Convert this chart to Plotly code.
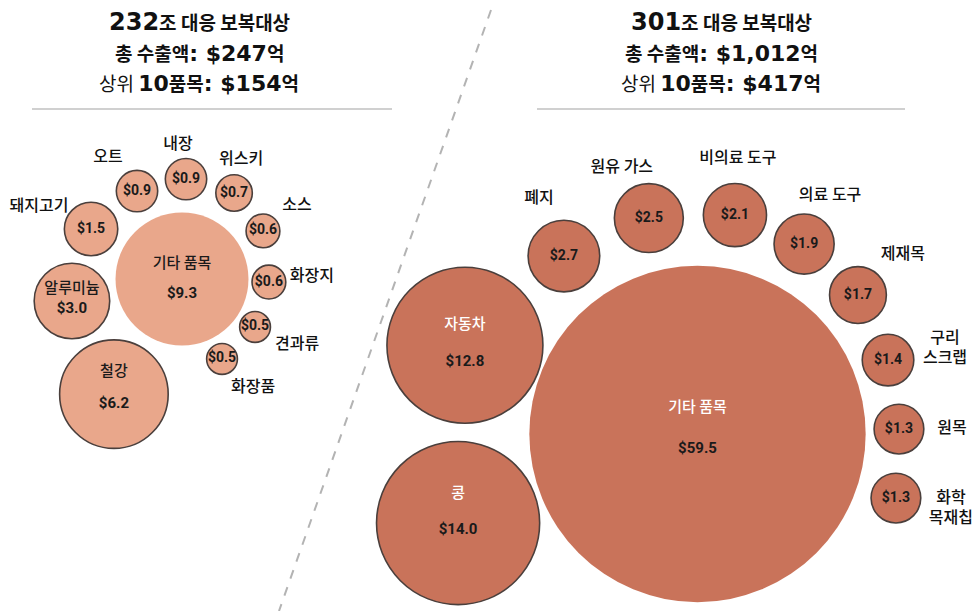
import math
import plotly.graph_objects as go

# ---------------- data ----------------
left_tariff = "232"
left_total = "$247"
left_top10 = "$154"
left_items = ["기타 품목", "철강", "알루미늄", "돼지고기", "오트", "내장",
              "위스키", "소스", "화장지", "견과류", "화장품"]
left_values = [9.3, 6.2, 3.0, 1.5, 0.9, 0.9, 0.7, 0.6, 0.6, 0.5, 0.5]

right_tariff = "301"
right_total = "$1,012"
right_top10 = "$417"
right_items = ["기타 품목", "콩", "자동차", "폐지", "원유 가스", "비의료 도구",
               "의료 도구", "제재목", "구리<br>스크랩", "원목", "화학<br>목재칩"]
right_values = [59.5, 14.0, 12.8, 2.7, 2.5, 2.1, 1.9, 1.7, 1.4, 1.3, 1.3]

# ---------------- layout parameters ----------------
W, H = 978, 611
K = 21.8                      # px radius per sqrt(value)
SIZEREF = 1.0 / (2 * K * K)   # plotly area mode -> radius = K*sqrt(v)

KFONT = "Noto Sans CJK KR, Noto Sans, sans-serif"
NFONT = "Liberation Sans Narrow, Roboto, sans-serif"
HFONT = "DejaVu Sans, Verdana, sans-serif"

LEFT_FILL = "#E9A78B"
RIGHT_FILL = "#C9735A"
EDGE = "#4a3f3c"

# packing: anchor bubble + satellites placed by angle (deg, y down) and gap
left_anchor = (182, 279)
left_angles = [0, 120.6, 168.7, -151.2, -117.1, -87.7, -58.8, -30.7, 2.0, 33.3, 63.4]
left_gaps = [0, 13, 8, 10.6, 11.6, 12.8, 15.8, 10.8, 3.6, 5.5, 7.5]
left_lbl_off = [None, None, None, (-52, -22), (-29, -33), (-8, -34), (7, -33),
                (34, -25), (43, -5), (42, 18), (31, 29)]
left_in_off = [(-15, 15), (-22, 10), (-12, 8)]

right_anchor = (697.5, 434)
right_angles = [0, 159.6, -159.1, -126.9, -102.7, -80.3, -60.7, -40.9, -21.2, -1.4, 17.9]
right_gaps = [0, 5.7, 2.8, 18.5, 18.7, 22.4, 19.6, 15.7, 10.4, 8.5, 15.5]
right_lbl_off = [None, None, None, (-25, -57), (-27, -50), (3, -56), (26, -48),
                 (45, -40), (57, -11), (53, 0), (55, 11)]
right_in_off = [(-26, 15), (-29, 7), (-20, 17)]


def radius(v):
    return K * math.sqrt(v)


def pack(anchor, values, angles, gaps):
    xs, ys = [anchor[0]], [anchor[1]]
    r0 = radius(values[0])
    for v, a, g in zip(values[1:], angles[1:], gaps[1:]):
        d = r0 + radius(v) + g
        xs.append(anchor[0] + d * math.cos(math.radians(a)))
        ys.append(anchor[1] + d * math.sin(math.radians(a)))
    return xs, ys


fig = go.Figure()


def add_panel(items, values, anchor, angles, gaps, lbl_off, in_off, fill,
              inner_name_color):
    xs, ys = pack(anchor, values, angles, gaps)
    fig.add_trace(go.Scatter(
        x=xs[:1], y=ys[:1], mode="markers", hoverinfo="skip",
        marker=dict(size=values[:1], sizemode="area", sizeref=SIZEREF,
                    color=fill, line=dict(width=0), opacity=1)))
    fig.add_trace(go.Scatter(
        x=xs[1:], y=ys[1:], mode="markers", hoverinfo="skip",
        marker=dict(size=values[1:], sizemode="area", sizeref=SIZEREF,
                    color=fill, line=dict(width=1.6, color=EDGE), opacity=1)))
    vals_txt = ["<b>$%.1f</b>" % v for v in values]
    nx, ny, nt, vx, vy, vt = [], [], [], [], [], []
    for i in range(3):
        nx.append(xs[i]); ny.append(ys[i] + in_off[i][0]); nt.append(items[i])
        vx.append(xs[i]); vy.append(ys[i] + in_off[i][1]); vt.append(vals_txt[i])
    fig.add_trace(go.Scatter(x=nx, y=ny, text=nt, mode="text", hoverinfo="skip",
                             cliponaxis=False,
                             textfont=dict(family=KFONT, size=15, weight=500,
                                           color=inner_name_color)))
    fig.add_trace(go.Scatter(x=vx, y=vy, text=vt, mode="text", hoverinfo="skip",
                             cliponaxis=False,
                             textfont=dict(family=NFONT, size=15, color="#1a1a1a")))
    sx = xs[3:]; sy = ys[3:]
    fig.add_trace(go.Scatter(x=sx, y=sy, text=vals_txt[3:], mode="text", hoverinfo="skip",
                             cliponaxis=False,
                             textfont=dict(family=NFONT, size=14, color="#1a1a1a")))
    lx = [x + o[0] for x, o in zip(sx, lbl_off[3:])]
    ly = [y + o[1] for y, o in zip(sy, lbl_off[3:])]
    fig.add_trace(go.Scatter(x=lx, y=ly, text=items[3:], mode="text", hoverinfo="skip",
                             cliponaxis=False,
                             textfont=dict(family=KFONT, size=16, weight=500,
                                           color="#111111")))


add_panel(left_items, left_values, left_anchor, left_angles, left_gaps,
          left_lbl_off, left_in_off, LEFT_FILL, "#1a1a1a")
add_panel(right_items, right_values, right_anchor, right_angles, right_gaps,
          right_lbl_off, right_in_off, RIGHT_FILL, "#ffffff")


def header(cx, tariff, total, top10):
    big = "<span style='font-family:%s;font-size:%dpx'><b>%s</b></span>"
    lines = [
        (22, big % (HFONT, 24, tariff) + "<b>조 대응 보복대상</b>"),
        (52, "<b>총 수출액</b>" + big % (HFONT, 22, ": " + total) + "<b>억</b>"),
        (82, "상위 " + big % (HFONT, 22, "10") + "<b>품목</b>" + big % (HFONT, 22, ": " + top10) + "<b>억</b>"),
    ]
    for y, t in lines:
        fig.add_annotation(x=cx, y=y, text=t, showarrow=False, xanchor="center",
                           yanchor="middle", font=dict(family=KFONT, size=19, color="#111111"))


header(199, left_tariff, left_total, left_top10)
header(721, right_tariff, right_total, right_top10)

fig.add_shape(type="line", x0=32, x1=392, y0=109, y1=109,
              line=dict(color="#d0d0d0", width=2))
fig.add_shape(type="line", x0=537, x1=905, y0=109, y1=109,
              line=dict(color="#d0d0d0", width=2))
fig.add_shape(type="line", x0=491, y0=10, x1=279, y1=611,
              line=dict(color="#b3b3b3", width=2, dash="dash"), layer="below")

fig.update_layout(
    width=W, height=H, margin=dict(l=0, r=0, t=0, b=0),
    paper_bgcolor="white", plot_bgcolor="white", showlegend=False,
    xaxis=dict(range=[0, W], visible=False, fixedrange=True),
    yaxis=dict(range=[H, 0], visible=False, fixedrange=True),
)

fig.write_html("out.html", config={"displayModeBar": False},
               post_script="document.body.style.margin='0';")
